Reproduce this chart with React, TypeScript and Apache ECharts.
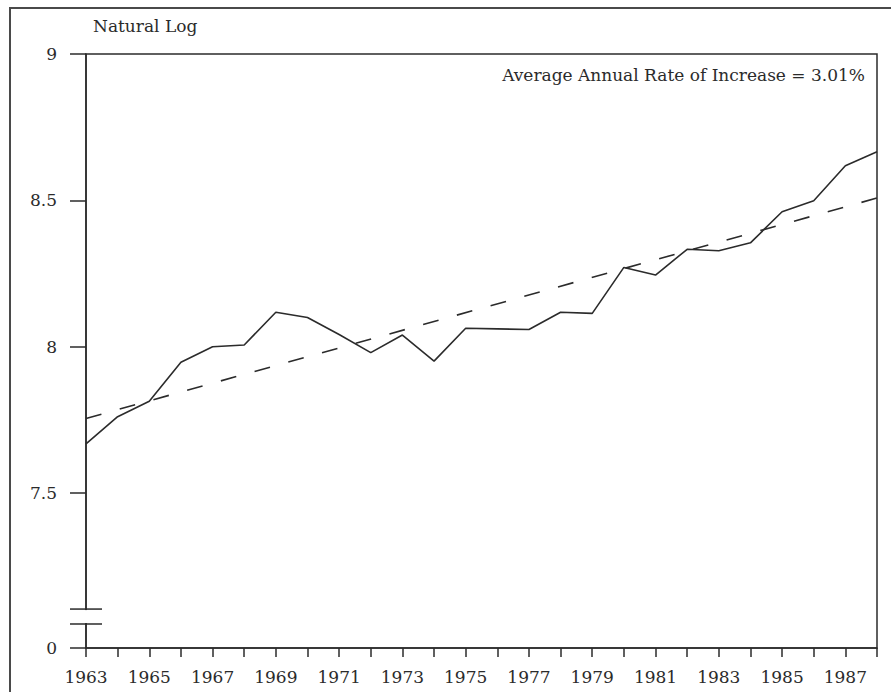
import React, { useEffect, useRef } from "react";
import * as echarts from "echarts";

const years = [1963, 1964, 1965, 1966, 1967, 1968, 1969, 1970, 1971, 1972, 1973, 1974, 1975, 1976, 1977, 1978, 1979, 1980, 1981, 1982, 1983, 1984, 1985, 1986, 1987, 1988];
const lnValues = [7.668, 7.761, 7.814, 7.947, 8.0, 8.006, 8.118, 8.1, 8.042, 7.98, 8.04, 7.951, 8.063, 8.061, 8.059, 8.118, 8.114, 8.271, 8.245, 8.333, 8.328, 8.355, 8.461, 8.499, 8.618, 8.666];
const trendYears = [1963, 1988];
const trendValues = [7.755, 8.508];
const xLabelYears = [1963, 1965, 1967, 1969, 1971, 1973, 1975, 1977, 1979, 1981, 1983, 1985, 1987];
const yTickValues = [6.971, 7.5, 8, 8.5, 9];
const yTickLabels = ["0", "7.5", "8", "8.5", "9"];
const breakValues = [7.104, 7.053];
const yAxisName = "Natural Log";
const annotation = "Average Annual Rate of Increase = 3.01%";

const FONT = "DejaVu Serif";
const INK = "#2b2b2b";

export default function App() {
  const ref = useRef<HTMLDivElement>(null);
  useEffect(() => {
    if (!ref.current) return;
    const chart = echarts.init(ref.current, null, { renderer: "svg" });
    const option: any = {
      animation: false,
      backgroundColor: "#ffffff",
      grid: {
        left: 86,
        right: 14,
        top: 54,
        bottom: 44,
        show: true,
        borderColor: INK,
        borderWidth: 1.5,
        backgroundColor: "transparent",
      },
      xAxis: {
        type: "value",
        min: 1963,
        max: 1988,
        interval: 1,
        axisLine: { show: true, lineStyle: { color: INK, width: 1.5 } },
        axisTick: {
          show: true,
          length: 9,
          lineStyle: { color: INK, width: 1.5 },
          customValues: years,
        },
        axisLabel: {
          customValues: xLabelYears,
          formatter: (v: number) => String(v),
          margin: 20,
          fontFamily: FONT,
          fontSize: 17,
          color: INK,
        },
        splitLine: { show: false },
      },
      yAxis: {
        type: "value",
        min: yTickValues[0],
        max: 9,
        axisLine: { show: true, lineStyle: { color: INK, width: 1.5 } },
        axisTick: {
          show: true,
          length: 16,
          lineStyle: { color: INK, width: 1.5 },
          customValues: yTickValues,
        },
        axisLabel: {
          customValues: yTickValues,
          formatter: (v: number) => {
            const i = yTickValues.findIndex((t) => Math.abs(t - v) < 1e-6);
            return i >= 0 ? yTickLabels[i] : "";
          },
          margin: 29,
          fontFamily: FONT,
          fontSize: 17,
          color: INK,
        },
        splitLine: { show: false },
      },
      series: [
        {
          type: "line",
          data: years.map((y, i) => [y, lnValues[i]]),
          symbol: "none",
          lineStyle: { color: INK, width: 1.6 },
          z: 3,
        },
        {
          type: "line",
          data: trendYears.map((y, i) => [y, trendValues[i]]),
          symbol: "none",
          lineStyle: { color: INK, width: 1.6, type: [16, 19] },
          z: 2,
        },
      ],
    };
    chart.setOption(option);

    const a = chart.convertToPixel({ gridIndex: 0 }, [1963, breakValues[0]]) as number[];
    const b = chart.convertToPixel({ gridIndex: 0 }, [1963, breakValues[1]]) as number[];
    const ax = a[0];
    chart.setOption({
      graphic: [
        {
          type: "rect",
          z: 100,
          shape: { x: 10, y: 8, width: 900, height: 720 },
          style: { fill: "none", stroke: "#4a4a4a", lineWidth: 2 },
          silent: true,
        },
        {
          type: "rect",
          z: 100,
          shape: { x: ax - 4, y: a[1] + 1, width: 8, height: b[1] - a[1] - 2 },
          style: { fill: "#ffffff" },
          silent: true,
        },
        {
          type: "line",
          z: 101,
          shape: { x1: ax - 16, y1: a[1], x2: ax + 16, y2: a[1] },
          style: { stroke: INK, lineWidth: 1.5 },
          silent: true,
        },
        {
          type: "line",
          z: 101,
          shape: { x1: ax - 16, y1: b[1], x2: ax + 16, y2: b[1] },
          style: { stroke: INK, lineWidth: 1.5 },
          silent: true,
        },
        {
          type: "text",
          z: 101,
          x: 93,
          y: 26,
          style: {
            text: yAxisName,
            fontFamily: FONT,
            fontSize: 17,
            fill: INK,
            textAlign: "left",
            textVerticalAlign: "middle",
          },
        },
        {
          type: "text",
          z: 101,
          x: 865,
          y: 75,
          style: {
            text: annotation,
            fontFamily: FONT,
            fontSize: 17,
            fill: INK,
            textAlign: "right",
            textVerticalAlign: "middle",
          },
        },
      ],
    });

    return () => chart.dispose();
  }, []);
  return (
    <div style={{ position: "absolute", left: 0, top: 0, width: 891, height: 692, background: "#fff" }}>
      <div ref={ref} style={{ width: 891, height: 692 }} />
    </div>
  );
}
